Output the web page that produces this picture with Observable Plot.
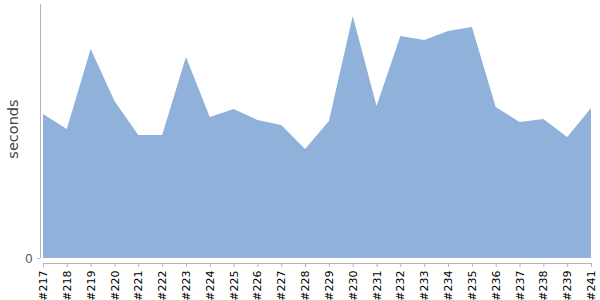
<!DOCTYPE html>
<html>
<head>
<meta charset="utf-8">
<script src="https://cdn.jsdelivr.net/npm/d3@7"></script>
<script src="https://cdn.jsdelivr.net/npm/@observablehq/plot@0.6"></script>
<style>
  body { margin: 0; background: #fff; }
</style>
</head>
<body>
<div id="chart"></div>
<script>
const builds = ["#217","#218","#219","#220","#221","#222","#223","#224","#225","#226","#227","#228","#229","#230","#231","#232","#233","#234","#235","#236","#237","#238","#239","#241"];
const seconds = [14.4,12.9,20.9,15.7,12.3,12.3,20.1,14.1,14.9,13.8,13.3,10.9,13.7,24.2,15.2,22.2,21.8,22.7,23.1,15.1,13.6,13.9,12.1,15.0];
const yTicks = [0];
const yMax = 25.4;

const data = builds.map((b, i) => ({index: i, build: b, seconds: seconds[i]}));
const idx = builds.map((b, i) => i);
const last = builds.length - 1;

const chart = Plot.plot({
  width: 600,
  height: 300,
  marginLeft: 40,
  marginRight: 9,
  marginTop: 4,
  marginBottom: 37,
  insetLeft: 3,
  insetBottom: 5,
  style: {fontFamily: "DejaVu Sans, sans-serif", fontSize: "11px", background: "#fff", color: "#000"},
  x: {type: "linear", domain: [0, last], ticks: idx, tickFormat: i => builds[i], tickRotate: -90, tickSize: 4, tickPadding: 3, label: null},
  y: {domain: [0, yMax], ticks: yTicks, tickSize: 3, tickPadding: 5, label: null, tickFormat: d => String(d)},
  marks: [
    Plot.areaY(data, {x: "index", y: "seconds", fill: "#8fb1da", curve: "linear"}),
    Plot.ruleX([0], {dx: -3, y1: 0, y2: yMax, stroke: "#b5b5b5", strokeWidth: 1}),
    Plot.ruleY([0], {dy: 5, x1: 0, x2: last, stroke: "#b5b5b5", strokeWidth: 1}),
    Plot.text(["seconds"], {frameAnchor: "left", textAnchor: "middle", lineAnchor: "middle", dx: -27, dy: -5, rotate: -90, fontSize: 14.5, fill: "#444", text: d => d})
  ]
});
const ylab = d3.select(chart).selectAll("[aria-label='y-axis tick label']");
ylab.attr("fill", "#555").style("font-size", "13px").style("font-family", "'Liberation Sans', Arial, sans-serif");
d3.select(chart).selectAll("[aria-label='x-axis tick'], [aria-label='y-axis tick']").attr("stroke", "#b5b5b5");
document.getElementById("chart").append(chart);
</script>
</body>
</html>
